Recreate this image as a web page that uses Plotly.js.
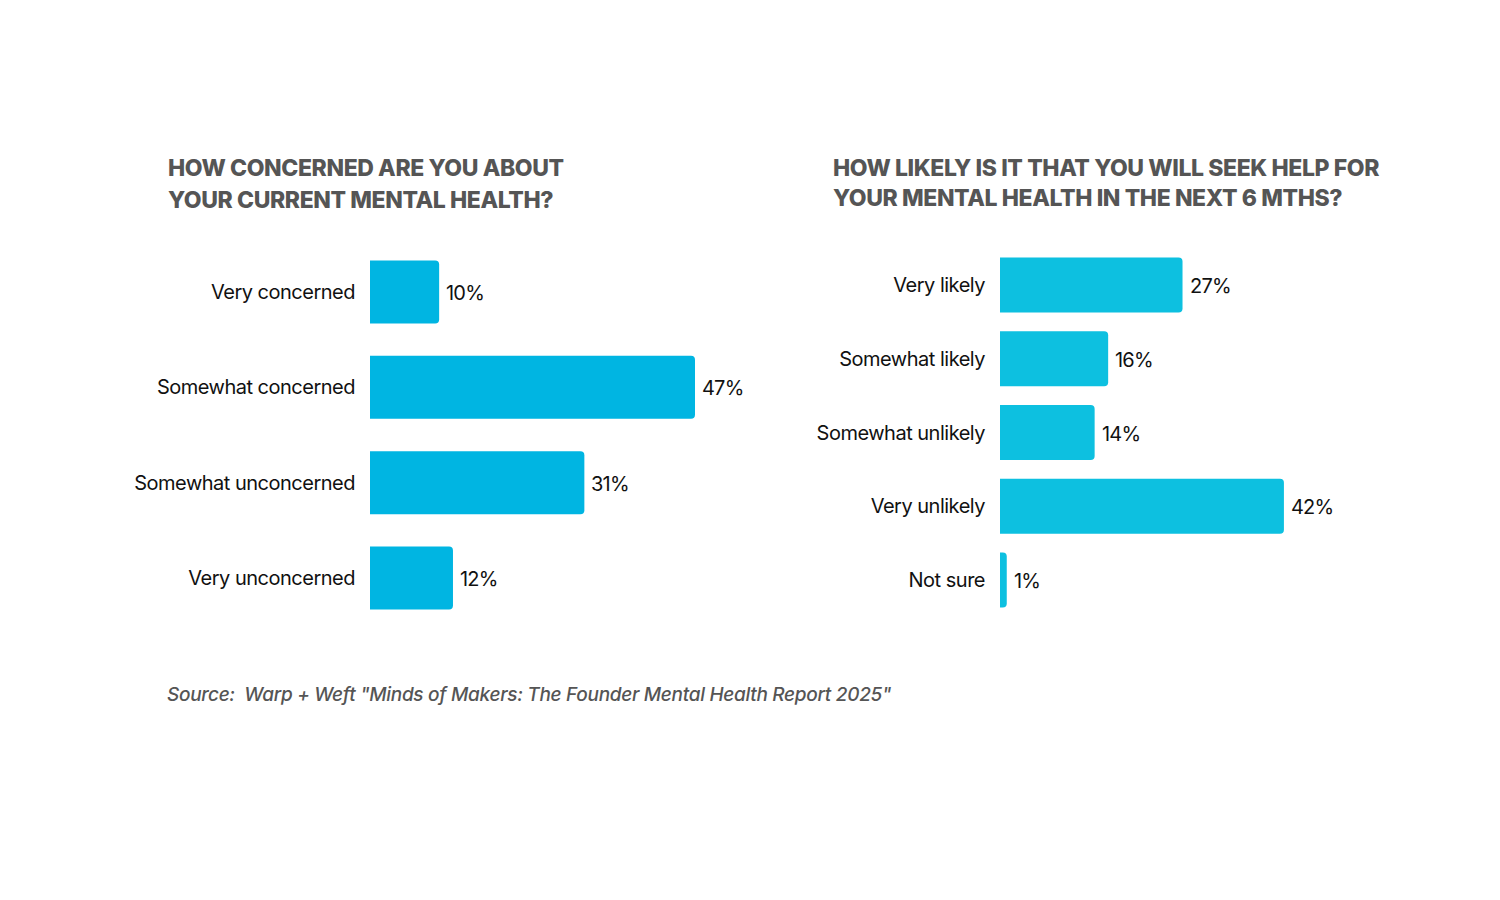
<!DOCTYPE html>
<html>
<head>
<meta charset="utf-8">
<script src="https://cdn.plot.ly/plotly-3.0.1.min.js"></script>
<style>
html,body{margin:0;padding:0;background:#fff;}
#chart{width:1500px;height:900px;}
#chart .ytick text, #chart .y2tick text{letter-spacing:-0.5px;}
</style>
</head>
<body>
<div id="chart"></div>
<script>
const concernCategories = ["Very concerned", "Somewhat concerned", "Somewhat unconcerned", "Very unconcerned"];
const concernValues = [10, 47, 31, 12];
const helpCategories = ["Very likely", "Somewhat likely", "Somewhat unlikely", "Very unlikely", "Not sure"];
const helpValues = [27, 16, 14, 42, 1];
const leftTitle = ["HOW CONCERNED ARE YOU ABOUT", "YOUR CURRENT MENTAL HEALTH?"];
const rightTitle = ["HOW LIKELY IS IT THAT YOU WILL SEEK HELP FOR", "YOUR MENTAL HEALTH IN THE NEXT 6 MTHS?"];
const sourceText = 'Source:  Warp + Weft "Minds of Makers: The Founder Mental Health Report 2025"';

const W = 1500, H = 900;
const fam = "Inter, 'Liberation Sans', sans-serif";
const labelFont = {family: fam, size: 20, color: "#111111"};

const traces = [
  {type: "bar", orientation: "h", x: concernValues, y: concernCategories, xaxis: "x", yaxis: "y",
   width: 0.66, marker: {color: "#00B5E2", cornerradius: 4}, hoverinfo: "skip"},
  {type: "bar", orientation: "h", x: helpValues, y: helpCategories, xaxis: "x2", yaxis: "y2",
   width: 0.745, marker: {color: "#0DC0E0", cornerradius: 4}, hoverinfo: "skip"}
];

const tight = s => '<span style="letter-spacing:-0.8px">' + s + '</span>';
const annotations = [];
concernValues.forEach((v, i) => annotations.push({x: v, y: concernCategories[i], xref: "x", yref: "y",
  text: tight(v + "%"), showarrow: false, xanchor: "left", xshift: 5, yshift: -1, font: labelFont}));
helpValues.forEach((v, i) => annotations.push({x: v, y: helpCategories[i], xref: "x2", yref: "y2",
  text: tight(v + "%"), showarrow: false, xanchor: "left", xshift: 5, yshift: -1, font: labelFont}));

const titleFont = {family: fam, size: 23, color: "#555555", weight: 800};
const titleLine = (txt, x, y) => ({x: x/W, y: 1 - y/H, xref: "paper", yref: "paper", xanchor: "left", yanchor: "middle",
  align: "left", showarrow: false, text: '<span style="letter-spacing:-0.4px">' + txt + '</span>', font: titleFont});
annotations.push(titleLine(leftTitle[0], 166, 168));
annotations.push(titleLine(leftTitle[1], 166, 200));
annotations.push(titleLine(rightTitle[0], 831, 168));
annotations.push(titleLine(rightTitle[1], 831, 198));
annotations.push({x: 165/W, y: 1 - 694/H, xref: "paper", yref: "paper", xanchor: "left", yanchor: "middle",
  align: "left", showarrow: false, text: '<span style="letter-spacing:-0.3px">' + sourceText + '</span>',
  font: {family: fam, size: 19, color: "#555555", style: "italic", weight: 500}});

const leftScale = 6.915, rightScale = 6.76, rangeMax = 60;
const layout = {
  width: W, height: H, margin: {l: 0, r: 0, t: 0, b: 0},
  paper_bgcolor: "#ffffff", plot_bgcolor: "#ffffff", showlegend: false,
  xaxis: {domain: [370/W, (370 + leftScale*rangeMax)/W], range: [0, rangeMax], visible: false, fixedrange: true},
  yaxis: {domain: [1 - 625.7/H, 1 - 244.3/H], anchor: "x", autorange: "reversed", showgrid: false, zeroline: false,
          showline: false, ticks: "", ticklabelstandoff: 14, tickfont: labelFont, fixedrange: true},
  xaxis2: {domain: [1000/W, (1000 + rightScale*rangeMax)/W], range: [0, rangeMax], visible: false, anchor: "y2", fixedrange: true},
  yaxis2: {domain: [1 - 617/H, 1 - 248/H], anchor: "x2", autorange: "reversed", showgrid: false, zeroline: false,
           showline: false, ticks: "", ticklabelstandoff: 14, tickfont: labelFont, fixedrange: true},
  annotations: annotations
};

Plotly.newPlot("chart", traces, layout, {displayModeBar: false, staticPlot: true});
</script>
</body>
</html>
